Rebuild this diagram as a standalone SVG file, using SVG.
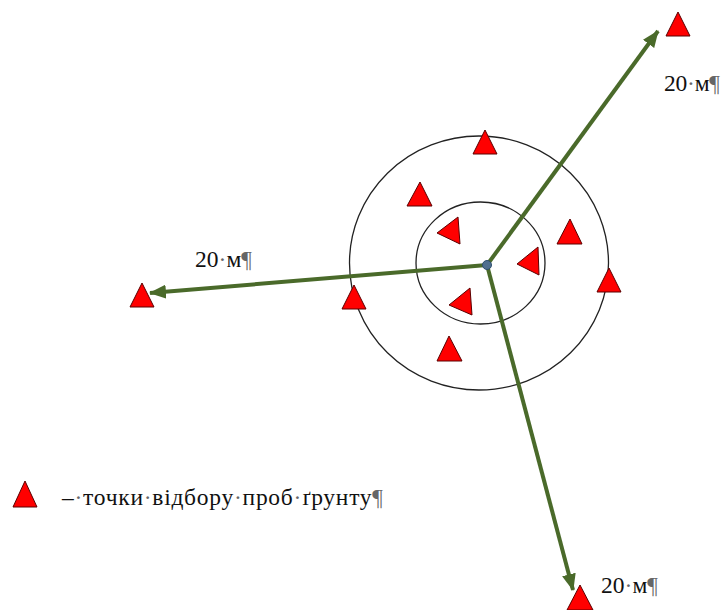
<svg xmlns="http://www.w3.org/2000/svg" width="723" height="610" viewBox="0 0 723 610">
<defs>
<marker id="ah" markerUnits="userSpaceOnUse" markerWidth="17" markerHeight="14" refX="16" refY="7" orient="auto">
<path d="M0,0 L17,7 L0,14 Z" fill="#4a6a2a"/>
</marker>
</defs>
<style>
.tri{fill:#ff0000;stroke:#5a0000;stroke-width:1;stroke-linejoin:round}
.ring{fill:none;stroke:#222;stroke-width:1.3}
.lbl{font-family:"Liberation Serif","Times New Roman",serif;font-size:23.5px;fill:#111}
.mk{fill:#666}
.arr{stroke:#4a6a2a;stroke-width:4;fill:none}
</style>
<rect width="723" height="610" fill="#fff"/>
<g id="outer-circle"><ellipse class="ring" cx="479" cy="263" rx="129.5" ry="127"/></g>
<g id="inner-circle"><ellipse class="ring" cx="480.5" cy="263" rx="64.5" ry="61"/></g>
<g id="connectors">
<line class="arr" x1="487" y1="265" x2="658" y2="31" marker-end="url(#ah)"/>
<line class="arr" x1="487" y1="265" x2="150" y2="293" marker-end="url(#ah)"/>
<line class="arr" x1="487" y1="265" x2="573" y2="590" marker-end="url(#ah)"/>
</g>
<g id="center"><circle cx="487" cy="265" r="4.5" fill="#4f6f8f" stroke="#2f4f6f" stroke-width="1"/></g>
<g id="points">
<polygon class="tri" points="678,12 666,36 690,36"/>
<polygon class="tri" points="485,130 473,154 497,154"/>
<polygon class="tri" points="420,182 407,206 432,206"/>
<polygon class="tri" points="570,219 557,244 582,244"/>
<polygon class="tri" points="609,268 597,292 621,292"/>
<polygon class="tri" points="449,336 437,361 462,361"/>
<polygon class="tri" points="354,285 342,309 366,309"/>
<polygon class="tri" points="142,283 130,307 154,307"/>
<polygon class="tri" points="580,585 567,610 593,610"/>
<polygon class="tri" points="458,217 460,244 437,233"/>
<polygon class="tri" points="538,247 539,275 517,264"/>
<polygon class="tri" points="470,288 472,315 449,305"/>
</g>
<g id="label-left"><text class="lbl" x="195" y="267" textLength="57" lengthAdjust="spacing">20<tspan class="mk">·</tspan>м<tspan class="mk">¶</tspan></text></g>
<g id="label-top"><text class="lbl" x="664" y="91" textLength="56" lengthAdjust="spacing">20<tspan class="mk">·</tspan>м<tspan class="mk">¶</tspan></text></g>
<g id="label-bottom"><text class="lbl" x="601" y="593" textLength="57" lengthAdjust="spacing">20<tspan class="mk">·</tspan>м<tspan class="mk">¶</tspan></text></g>
<g id="legend">
<polygon class="tri" points="25,481 13,507 37,507"/>
<text class="lbl" x="62" y="505" textLength="321" lengthAdjust="spacing">–<tspan class="mk">·</tspan>точки<tspan class="mk">·</tspan>відбору<tspan class="mk">·</tspan>проб<tspan class="mk">·</tspan>ґрунту<tspan class="mk">¶</tspan></text>
</g>
</svg>
